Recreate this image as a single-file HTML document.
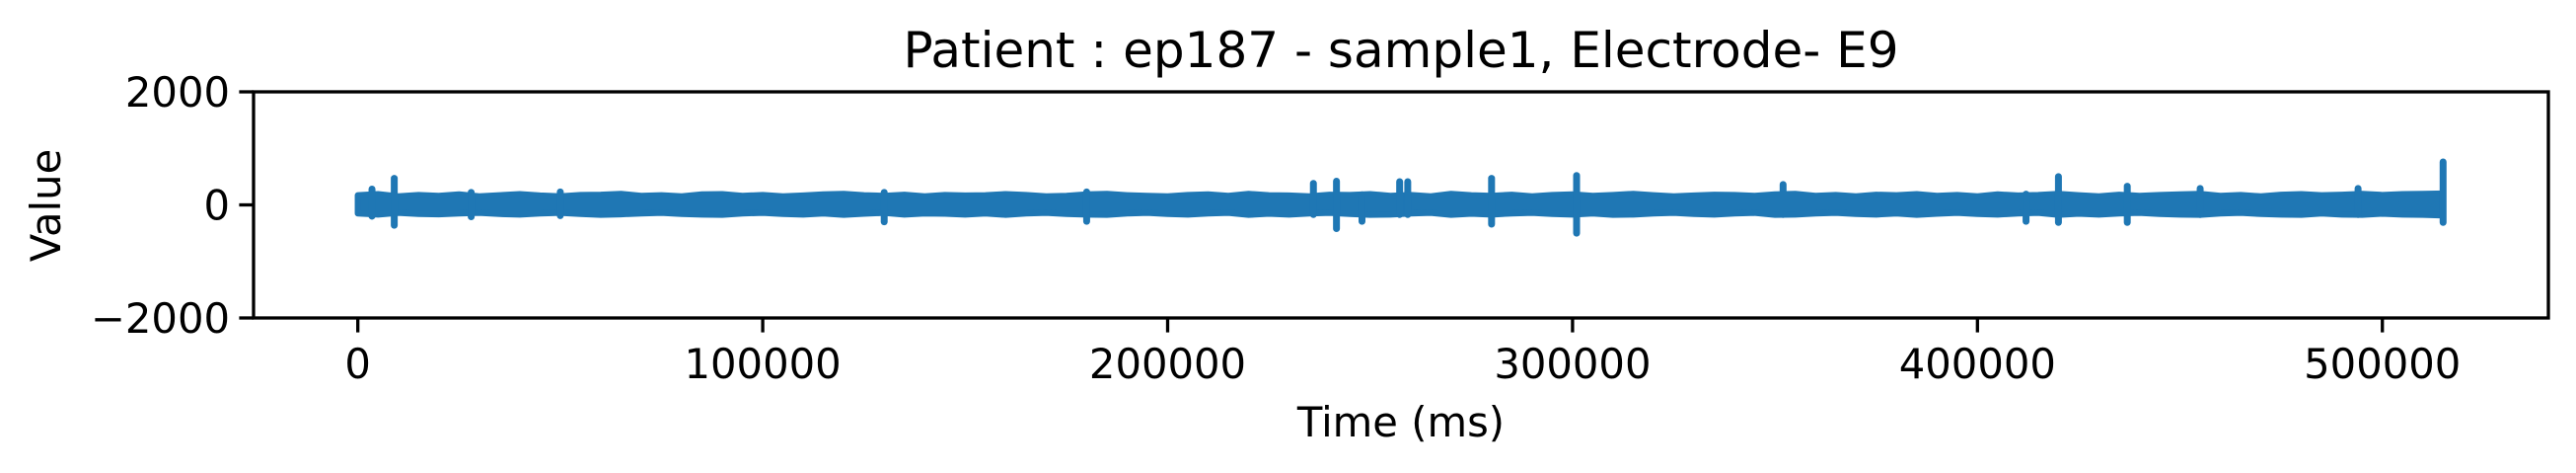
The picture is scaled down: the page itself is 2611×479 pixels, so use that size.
<!DOCTYPE html>
<html><head><meta charset="utf-8"><style>
html,body{margin:0;padding:0;background:#fff;}
svg{display:block;font-family:"DejaVu Sans","Liberation Sans",sans-serif;}
</style></head><body>
<svg id="chart" width="2611" height="479" viewBox="0 0 2611 479" xmlns="http://www.w3.org/2000/svg">
<rect width="2611" height="479" fill="#fff"/>
<text x="1420" y="68" font-size="50" text-anchor="middle">Patient : ep187 - sample1, Electrode- E9</text>
<g id="plot"></g>
<g id="axes"></g>
<text x="1420" y="442" font-size="41.7" text-anchor="middle">Time (ms)</text>
<text transform="translate(61,208) rotate(-90)" font-size="41.7" text-anchor="middle">Value</text>
</svg>
<script>
const xTicks=[0,100000,200000,300000,400000,500000];
const yTicks=[-2000,0,2000];
const envStep=5000;
const envUpper=[170,190,150,175,160,185,150,170,190,165,150,175,180,195,160,170,150,185,190,160,175,150,165,185,195,170,160,180,150,175,165,170,190,175,150,160,185,195,170,160,150,175,185,160,195,170,165,150,180,175,190,160,175,150,195,170,160,180,150,175,185,160,175,195,170,150,165,180,175,160,185,195,160,175,150,180,170,190,160,175,150,185,165,175,195,170,150,180,160,175,185,195,160,175,150,180,190,170,180,195,175,190,195,200];
const envLower=[-150,-170,-140,-160,-165,-150,-140,-160,-170,-150,-140,-160,-175,-165,-150,-140,-160,-170,-175,-150,-140,-160,-170,-150,-175,-155,-140,-170,-150,-155,-170,-150,-175,-150,-140,-160,-170,-175,-150,-140,-160,-170,-150,-140,-175,-155,-170,-150,-140,-160,-175,-170,-150,-140,-175,-155,-170,-150,-140,-160,-170,-150,-175,-170,-150,-140,-160,-170,-150,-140,-175,-170,-150,-140,-160,-170,-150,-175,-155,-140,-160,-170,-150,-140,-175,-155,-170,-150,-140,-160,-170,-175,-150,-140,-160,-170,-175,-150,-170,-175,-155,-170,-175,-185];
const spikeTimes=[3500,9000,28000,50000,130000,180000,236000,241700,248000,257300,259300,280000,301000,352000,412000,420000,437000,455000,494000,515000];
const spikeHigh=[280,470,220,230,220,230,380,420,180,410,410,470,520,360,190,500,330,290,290,760];
const spikeLow=[-200,-360,-210,-190,-300,-290,-170,-420,-290,-170,-170,-340,-500,-170,-290,-310,-310,-170,-170,-310];
const xMin=-25750,xMax=541000,yMin=-2000,yMax=2000;
const L=257,R=2583,T=93,B=322;
const X=v=>L+(v-xMin)/(xMax-xMin)*(R-L);
const Y=v=>B-(v-yMin)/(yMax-yMin)*(B-T);
const NS="http://www.w3.org/2000/svg";
const plot=document.getElementById('plot'),axes=document.getElementById('axes');
function mk(tag,attrs,parent){const e=document.createElementNS(NS,tag);for(const k in attrs)e.setAttribute(k,attrs[k]);parent.appendChild(e);return e;}
let pts=[];
for(let i=0;i<envUpper.length;i++)pts.push(X(Math.min(i*envStep,515000))+','+Y(envUpper[i]));
for(let i=envLower.length-1;i>=0;i--)pts.push(X(Math.min(i*envStep,515000))+','+Y(envLower[i]));
const band=mk('polygon',{points:pts.join(' '),fill:'#1f77b4',stroke:'#1f77b4','stroke-width':6.25,'stroke-linejoin':'round'},plot);


for(let i=0;i<spikeTimes.length;i++){
  const s=mk('line',{x1:X(spikeTimes[i]),x2:X(spikeTimes[i]),y1:Y(spikeHigh[i]),y2:Y(spikeLow[i]),stroke:'#1f77b4','stroke-width':7,'stroke-linecap':'round'},plot);
  
  
}
const fr=mk('rect',{x:L,y:T,width:R-L,height:B-T,fill:'none',stroke:'#000','stroke-width':3.3},axes);


xTicks.forEach(v=>{
  const t=mk('line',{x1:X(v),x2:X(v),y1:B,y2:B+14.6,stroke:'#000','stroke-width':3.3},axes);
  
  
  const l=mk('text',{x:X(v),y:383,'font-size':41.7,'text-anchor':'middle'},axes);
  l.textContent=String(v);
  
  
});
yTicks.forEach(v=>{
  const t=mk('line',{x1:L-14.6,x2:L,y1:Y(v),y2:Y(v),stroke:'#000','stroke-width':3.3},axes);
  
  
  const l=mk('text',{x:L-24,y:Y(v)+15,'font-size':41.7,'text-anchor':'end'},axes);
  l.textContent=v<0?'\u2212'+Math.abs(v):String(v);
  
  
});
</script>
</body></html>
